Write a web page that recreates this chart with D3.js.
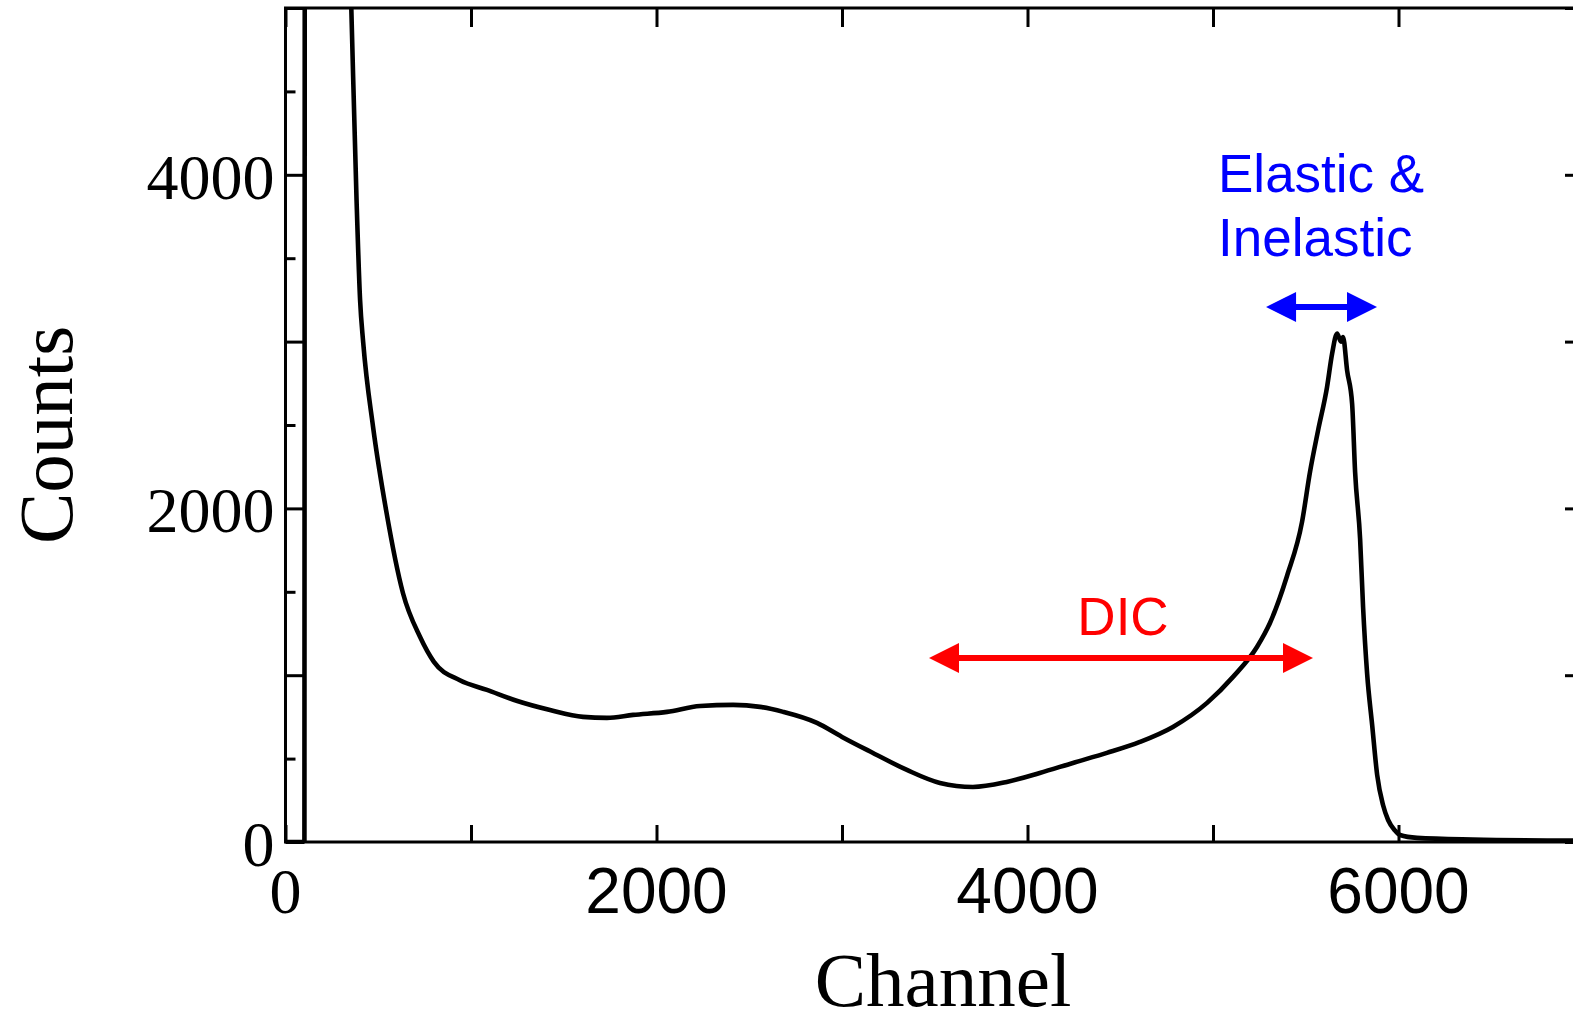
<!DOCTYPE html>
<html>
<head>
<meta charset="utf-8">
<script src="https://cdn.jsdelivr.net/npm/d3@7"></script>
<style>
  html, body { margin: 0; padding: 0; background: #fff; }
  svg { display: block; }
</style>
</head>
<body>
<svg id="chart" width="1573" height="1018"></svg>
<script>
// spectrum: [channel, counts]
const channels = [0, 102, 105, 200, 330, 355, 383, 402, 419, 472, 542, 633, 725, 800, 940, 1086,
  1250, 1426, 1604, 1733, 1874, 2057, 2235, 2413, 2558, 2683, 2865, 3000, 3167, 3350, 3528,
  3706, 3888, 4066, 4245, 4428, 4606, 4784, 4968, 5108, 5237, 5307, 5399, 5480, 5523, 5566,
  5615, 5642, 5669, 5690, 5701, 5723, 5750, 5766, 5793, 5809, 5831, 5858, 5885, 5917, 5944,
  5980, 6008, 6100, 6400, 7000];
const counts = [0, 0, 9000, 9000, 6000, 4990, 3850, 3250, 2993, 2489, 1991, 1493, 1230, 1080, 970, 912,
  845, 791, 750, 744, 762, 780, 815, 822, 810, 780, 714, 630, 534, 432, 354,
  330, 360, 414, 474, 534, 600, 690, 834, 990, 1169, 1313, 1595, 1919, 2219, 2465,
  2729, 2927, 3049, 3000, 3028, 2827, 2627, 2219, 1817, 1409, 1007, 702, 402, 220, 132,
  70, 42, 25, 15, 8];

const xTicks = [0, 1000, 2000, 3000, 4000, 5000, 6000, 7000];
const xLabels = [0, 2000, 4000, 6000];
const yMajor = [0, 1000, 2000, 3000, 4000, 5000];
const yMinor = [500, 1500, 2500, 3500, 4500];
const yLabels = [0, 2000, 4000];

// annotations: label, arrow from/to channel, arrow height in counts
const annotations = [
  { lines: ["DIC"], color: "#ff0000", from: 3469, to: 5539, y: 1103, tx: 1123, ty: 635, anchor: "middle" },
  { lines: ["Elastic &", "Inelastic"], color: "#0000ff", from: 5286, to: 5884, y: 3208, tx: 1218, ty: 192, anchor: "start" }
];

const svg = d3.select("#chart");
const mLeft = 285.5, mRight = 1584, mTop = 8, mBottom = 842;

const x = d3.scaleLinear().domain([0, 7000]).range([mLeft, mRight]);
const y = d3.scaleLinear().domain([0, 5000]).range([mBottom, mTop]);

const serif = "'Liberation Serif', 'Times New Roman', serif";
const sans = "'Liberation Sans', Arial, sans-serif";

svg.append("defs").append("clipPath").attr("id", "plot-clip")
  .append("rect").attr("x", mLeft).attr("y", mTop).attr("width", mRight - mLeft).attr("height", mBottom - mTop);

// spectrum
const data = channels.map((c, i) => [c, counts[i]]);
const line = d3.line().x(d => x(d[0])).y(d => y(d[1])).curve(d3.curveMonotoneX);
svg.append("path")
  .datum(data)
  .attr("clip-path", "url(#plot-clip)")
  .attr("fill", "none")
  .attr("stroke", "#000")
  .attr("stroke-width", 4.6)
  .attr("stroke-linejoin", "round")
  .attr("d", line);

// axes with inward ticks
const axisStyle = g => {
  g.select(".domain").remove();
  g.selectAll(".tick line").attr("stroke", "#000").attr("stroke-width", 3);
};

svg.append("g").attr("transform", `translate(0,${mBottom})`)
  .call(d3.axisBottom(x).tickValues(xTicks).tickSize(-17).tickFormat(""))
  .call(axisStyle);
svg.append("g").attr("transform", `translate(0,${mTop})`)
  .call(d3.axisTop(x).tickValues(xTicks).tickSize(-19).tickFormat(""))
  .call(axisStyle);
svg.append("g").attr("transform", `translate(${mLeft},0)`)
  .call(d3.axisLeft(y).tickValues(yMajor).tickSize(-19).tickFormat(""))
  .call(axisStyle);
svg.append("g").attr("transform", `translate(${mLeft},0)`)
  .call(d3.axisLeft(y).tickValues(yMinor).tickSize(-10).tickFormat(""))
  .call(axisStyle);
svg.append("g").attr("transform", `translate(${mRight},0)`)
  .call(d3.axisRight(y).tickValues(yMajor).tickSize(-19).tickFormat(""))
  .call(axisStyle);
svg.append("g").attr("transform", `translate(${mRight},0)`)
  .call(d3.axisRight(y).tickValues(yMinor).tickSize(-10).tickFormat(""))
  .call(axisStyle);

// frame
svg.append("rect")
  .attr("x", mLeft).attr("y", mTop)
  .attr("width", mRight - mLeft).attr("height", mBottom - mTop)
  .attr("fill", "none").attr("stroke", "#000").attr("stroke-width", 3);

// tick labels
svg.append("g").selectAll("text").data(xLabels).join("text")
  .attr("x", d => x(d))
  .attr("y", mBottom + 71)
  .attr("text-anchor", "middle")
  .attr("font-family", d => d === 0 ? serif : sans)
  .attr("font-size", 64)
  .text(d => d);

svg.append("g").selectAll("text").data(yLabels).join("text")
  .attr("x", mLeft - 11)
  .attr("y", d => y(d) + 24)
  .attr("text-anchor", "end")
  .attr("font-family", serif)
  .attr("font-size", 64)
  .text(d => d);

// axis titles
svg.append("text")
  .attr("x", 943).attr("y", 1006)
  .attr("text-anchor", "middle")
  .attr("font-family", serif)
  .attr("font-size", 77)
  .text("Channel");

svg.append("text")
  .attr("transform", "translate(72,435) rotate(-90)")
  .attr("text-anchor", "middle")
  .attr("font-family", serif)
  .attr("font-size", 77)
  .text("Counts");

// annotations with double-headed arrows
const headLen = 30, headHalf = 15;
annotations.forEach(a => {
  const g = svg.append("g");
  const x0 = x(a.from), x1 = x(a.to), yy = y(a.y);
  g.append("line")
    .attr("x1", x0 + headLen - 2).attr("x2", x1 - headLen + 2)
    .attr("y1", yy).attr("y2", yy)
    .attr("stroke", a.color).attr("stroke-width", 6);
  g.append("path")
    .attr("d", `M${x0},${yy} L${x0 + headLen},${yy - headHalf} L${x0 + headLen},${yy + headHalf} Z`)
    .attr("fill", a.color);
  g.append("path")
    .attr("d", `M${x1},${yy} L${x1 - headLen},${yy - headHalf} L${x1 - headLen},${yy + headHalf} Z`)
    .attr("fill", a.color);
  a.lines.forEach((t, i) => {
    g.append("text")
      .attr("x", a.tx).attr("y", a.ty + i * 64)
      .attr("text-anchor", a.anchor)
      .attr("font-family", sans)
      .attr("font-size", 53)
      .attr("fill", a.color)
      .text(t);
  });
});
</script>
</body>
</html>
